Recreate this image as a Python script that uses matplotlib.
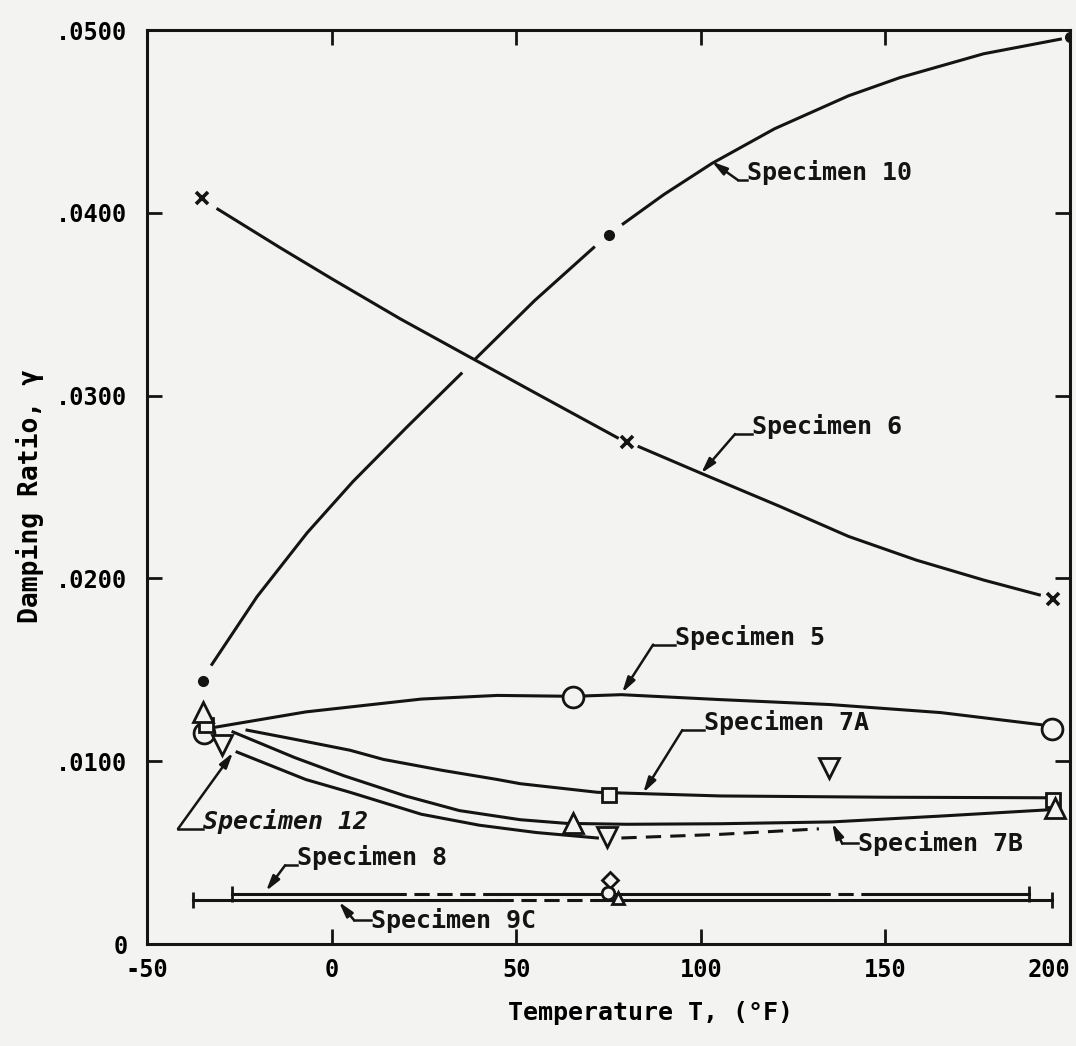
import matplotlib
matplotlib.use("Agg")
import matplotlib.pyplot as plt
from matplotlib.transforms import ScaledTranslation
import numpy as np

nan = np.nan

# measured points (temperature F, damping ratio)
spec10_T = [-34.8, 75.2, 200.0]
spec10_g = [0.0144, 0.0388, 0.0496]
spec6_T = [-35.1, 80.1, 195.5]
spec6_g = [0.0408, 0.02745, 0.01885]
spec5_T = [-34.6, 65.4, 195.0]
spec5_g = [0.01156, 0.01353, 0.01178]
spec7a_T = [-34.0, 75.2, 195.5]
spec7a_g = [0.0120, 0.00816, 0.0079]
spec7b_T = [-34.8, 65.4, 196.0]
spec7b_g = [0.0127, 0.00663, 0.00745]
spec12_T = [-29.7, 74.7, 134.8]
spec12_g = [0.0109, 0.00586, 0.00964]
spec8_T = [75.5]
spec8_g = [0.0035]
spec9c_T = [75.0, 77.5]
spec9c_g = [0.0028, 0.0025]

# faired curves (nan = break in the line)
curve10_T = [-32.4, -20.2, -6.6, 5.8, 20.5, 35.1, nan, 38.9, 55.0, 71.0, nan, 79.0, 90.0, 103.0, 120.0, 140.0, 154.0, 176.6, 197.4]
curve10_g = [0.0153, 0.0190, 0.0225, 0.0253, 0.0283, 0.0312, nan, 0.0320, 0.0352, 0.0381, nan, 0.0394, 0.0410, 0.0427, 0.0446, 0.0464, 0.0474, 0.0487, 0.0495]
curve6_T = [-30.8, -14.0, 0.0, 18.6, 34.8, 56.5, 77.4, nan, 83.3, 100.1, 121.3, 140.0, 158.4, 176.8, 191.7]
curve6_g = [0.0402, 0.0381, 0.0364, 0.0342, 0.0324, 0.0300, 0.0277, nan, 0.0272, 0.02575, 0.02395, 0.0223, 0.0210, 0.0199, 0.0191]
curve5_T = [-32.1, -6.9, 24.3, 44.9, 65.4, 78.5, 105.3, 135.0, 165.0, 192.0]
curve5_g = [0.01184, 0.0127, 0.0134, 0.0136, 0.01355, 0.01364, 0.01337, 0.0131, 0.01266, 0.0120]
curve7a_T = [-22.9, -10.0, 5.0, 14.0, 30.0, 44.9, 51.1, 72.0, 105.3, 150.0, 193.9]
curve7a_g = [0.0117, 0.0112, 0.0106, 0.0101, 0.0095, 0.0090, 0.00877, 0.0083, 0.0081, 0.00803, 0.0080]
curve7b_T = [-26.7, -10.0, 3.4, 20.0, 34.6, 51.1, 63.6, 80.0, 105.3, 135.6, 165.0, 194.0]
curve7b_g = [0.0116, 0.0102, 0.0092, 0.0081, 0.0073, 0.0068, 0.0066, 0.00655, 0.00658, 0.00668, 0.0070, 0.00734]
curve12_T = [-25.6, -7.0, 5.0, 24.3, 40.0, 55.4, 72.0]
curve12_g = [0.0105, 0.0090, 0.0083, 0.0071, 0.0065, 0.0061, 0.0058]
curve12_dash_T = [78.5, 105.3, 132.0]
curve12_dash_g = [0.0058, 0.0060, 0.0063]

# the two flat lines: level, break points, style of each piece
line8_g = 0.00275
line8_T = [-27.0, 16.0, 45.0, 131.0, 146.0, 189.0]
line8_styles = ['-', '--', '-', '--', '-']
line9c_g = 0.0024
line9c_T = [-37.5, 45.0, 72.0, 195.0]
line9c_styles = ['-', '--', '-']

ink = '#141414'
paper = '#f3f3f1'
mono = 'DejaVu Sans Mono'

fig = plt.figure(figsize=(10.76, 10.46), dpi=100, facecolor=paper)
ax = fig.add_axes([0.1366, 0.0975, 0.8578, 0.8738], facecolor=paper)

lw = 2.2
ax.plot(curve10_T, curve10_g, color=ink, lw=lw)
ax.plot(curve6_T, curve6_g, color=ink, lw=lw)
ax.plot(curve5_T, curve5_g, color=ink, lw=lw)
ax.plot(curve7a_T, curve7a_g, color=ink, lw=lw)
ax.plot(curve7b_T, curve7b_g, color=ink, lw=lw)
ax.plot(curve12_T, curve12_g, color=ink, lw=lw)
ax.plot(curve12_dash_T, curve12_dash_g, color=ink, lw=lw, ls=(0, (5, 3)))

for T, styles, g in [(line8_T, line8_styles, line8_g), (line9c_T, line9c_styles, line9c_g)]:
    for i, st in enumerate(styles):
        ax.plot([T[i], T[i + 1]], [g, g], color=ink, lw=lw,
                ls='-' if st == '-' else (0, (5, 2.5)))
    ax.plot([T[0], T[-1]], [g, g], ls='none', marker='|', ms=12, mew=2, color=ink)

mk = dict(color=ink, ls='none', zorder=5)
ax.plot(spec10_T, spec10_g, marker='o', ms=7, **mk)
ax.plot(spec6_T, spec6_g, marker='x', ms=9, mew=2.6, **mk)
ax.plot(spec5_T, spec5_g, marker='o', ms=15, mew=2, mfc=paper, **mk)
ax.plot(spec7a_T, spec7a_g, marker='s', ms=10, mew=2, mfc=paper, **mk)
ax.plot(spec7b_T, spec7b_g, marker='^', ms=14, mew=2, mfc=paper, **mk)
ax.plot(spec12_T, spec12_g, marker='v', ms=14, mew=2, mfc=paper, **mk)
ax.plot(spec8_T, spec8_g, marker='D', ms=8, mew=2, mfc=paper, **mk)
ax.plot(spec9c_T[:1], spec9c_g[:1], marker='o', ms=9, mew=2, mfc=paper, **mk)
ax.plot(spec9c_T[1:], spec9c_g[1:], marker='^', ms=9, mew=2, mfc=paper, **mk)


def callout(text, txt, elbow, tip, va='baseline', style='normal'):
    ax.text(txt[0], txt[1], text, ha='left', va=va, fontsize=18,
            family=mono, weight='bold', style=style, color=ink)
    ax.plot([elbow[0], txt[0]], [elbow[1], elbow[1]], color=ink, lw=1.8)
    ax.annotate('', xy=tip, xytext=elbow,
                arrowprops=dict(arrowstyle='-|>,head_length=0.9,head_width=0.25',
                                color=ink, lw=1.8, shrinkA=0, shrinkB=0))


callout('Specimen 10', (112.5, 0.0418), (110.0, 0.0418), (103.0, 0.0428))
callout('Specimen 6', (114.0, 0.0279), (109.3, 0.0279), (100.1, 0.02575))
callout('Specimen 5', (93.1, 0.01638), (87.1, 0.01638), (78.7, 0.01375))
callout('Specimen 7A', (100.9, 0.0117), (95.0, 0.0117), (84.4, 0.00827))
callout('Specimen 7B', (142.7, 0.0055), (138.3, 0.0055), (135.6, 0.0066), va='center')
callout('Specimen 12', (-34.8, 0.0063), (-41.6, 0.0063), (-26.7, 0.01047), style='oblique')
callout('Specimen 8', (-9.3, 0.0043), (-12.6, 0.0043), (-17.75, 0.0029))
callout('Specimen 9C', (10.7, 0.0013), (6.1, 0.0013), (2.0, 0.0023), va='center')

ax.set_xlim(-50, 200)
ax.set_ylim(0, 0.05)
ax.set_xticks([-50, 0, 50, 100, 150, 200])
ax.set_xticklabels(['-50', '0', '50', '100', '150', '200'], family=mono, fontsize=17, weight='bold')
ax.set_yticks([0, 0.01, 0.02, 0.03, 0.04, 0.05])
ax.set_yticklabels(['0', '.0100', '.0200', '.0300', '.0400', '.0500'], family=mono, fontsize=17, weight='bold')
ax.xaxis.get_ticklabels()[-1].set_ha('right')
lift = ScaledTranslation(0, 0.05, fig.dpi_scale_trans)
for t in ax.yaxis.get_ticklabels():
    t.set_transform(t.get_transform() + lift)
ax.tick_params(direction='in', length=11, width=2, color=ink, top=True, right=True)
ax.tick_params(axis='x', pad=10)
ax.tick_params(axis='y', pad=14)
for s in ax.spines.values():
    s.set_linewidth(2.2)
    s.set_color(ink)

ax.set_xlabel('Temperature T, (°F)', family=mono, fontsize=18, weight='bold')
ax.set_ylabel('Damping Ratio, γ', family=mono, fontsize=19, weight='bold')
ax.xaxis.set_label_coords(0.545, -0.062)
ax.yaxis.set_label_coords(-0.112, 0.49)

fig.savefig('out.png', dpi=100, facecolor=paper)
